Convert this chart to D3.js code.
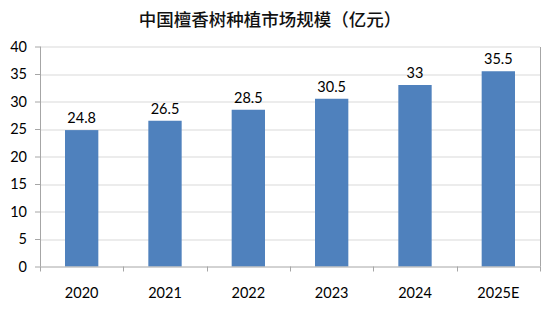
<!DOCTYPE html>
<html>
<head>
<meta charset="utf-8">
<script src="https://cdn.jsdelivr.net/npm/d3@7"></script>
<style>
  body { margin: 0; background: #fff; }
  text { font-family: Lato, "Open Sans", sans-serif; }
</style>
</head>
<body>
<div class="chart"></div>
<script>
var years = ["2020", "2021", "2022", "2023", "2024", "2025E"];
var values = [24.8, 26.5, 28.5, 30.5, 33, 35.5];
var yTicks = [0, 5, 10, 15, 20, 25, 30, 35, 40];
var title = "中国檀香树种植市场规模（亿元）";

var svgWidth = 550;
var svgHeight = 310;

var margin = { top: 46.5, right: 10, bottom: 43.5, left: 40 };
var width = svgWidth - margin.left - margin.right;
var height = svgHeight - margin.top - margin.bottom;

var svg = d3.select(".chart")
  .append("svg")
  .attr("width", svgWidth)
  .attr("height", svgHeight);

svg.append("text")
  .attr("x", 270)
  .attr("y", 26)
  .attr("text-anchor", "middle")
  .style("font-family", "'Noto Sans CJK SC', sans-serif")
  .style("font-size", "17.5px")
  .style("font-weight", 500)
  .attr("fill", "#111")
  .text(title);

var chartGroup = svg.append("g")
  .attr("transform", `translate(${margin.left}, ${margin.top})`);

var x = d3.scaleBand().domain(years).range([0, width]).paddingInner(0.6).paddingOuter(0.3);
var xOuter = d3.scaleBand().domain(years).range([0, width]);
var y = d3.scaleLinear().domain([0, 40]).range([height, 0]);

// gridlines
chartGroup.selectAll(".grid")
  .data(yTicks.filter(d => d > 0))
  .enter()
  .append("line")
  .attr("x1", 0)
  .attr("x2", width)
  .attr("y1", d => Math.round(y(d)) + 0.5)
  .attr("y2", d => Math.round(y(d)) + 0.5)
  .attr("stroke", "#d9d9d9");

// right border
chartGroup.append("line")
  .attr("x1", width + 0.5).attr("x2", width + 0.5)
  .attr("y1", Math.round(y(40)) + 0.5).attr("y2", height)
  .attr("stroke", "#a6a6a6");

// bars
chartGroup.selectAll(".bar")
  .data(values)
  .enter()
  .append("rect")
  .attr("x", (d, i) => x(years[i]))
  .attr("y", d => y(d))
  .attr("width", x.bandwidth())
  .attr("height", d => height - y(d))
  .attr("fill", "#4f81bd");

// value labels
chartGroup.selectAll(".lbl")
  .data(values)
  .enter()
  .append("text")
  .attr("x", (d, i) => x(years[i]) + x.bandwidth() / 2)
  .attr("y", d => y(d) - 7)
  .attr("text-anchor", "middle")
  .style("font-size", "14.5px")
  .attr("fill", "#000")
  .text(d => d);

// y axis
var leftAxis = d3.axisLeft(y).tickValues(yTicks).tickSize(5).tickPadding(8);
var yAxis = chartGroup.append("g").call(leftAxis);
yAxis.select(".domain").attr("stroke", "#a6a6a6").attr("d", `M0.5,${Math.round(y(40))}V${height}`);
yAxis.selectAll(".tick line").attr("stroke", "#a6a6a6");
yAxis.selectAll(".tick text").style("font-size", "14.5px").attr("fill", "#000").style("font-family", "Lato, sans-serif");

// x axis
var xAxis = chartGroup.append("g")
  .attr("transform", `translate(0, ${height})`);
xAxis.append("line")
  .attr("x1", 0).attr("x2", width)
  .attr("y1", 0.5).attr("y2", 0.5)
  .attr("stroke", "#a6a6a6");
xAxis.selectAll(".xt")
  .data(years.concat(["end"]))
  .enter()
  .append("line")
  .attr("x1", (d, i) => Math.round(i * xOuter.step()) + 0.5)
  .attr("x2", (d, i) => Math.round(i * xOuter.step()) + 0.5)
  .attr("y1", 0).attr("y2", 5)
  .attr("stroke", "#a6a6a6");
xAxis.selectAll(".xl")
  .data(years)
  .enter()
  .append("text")
  .attr("x", d => xOuter(d) + xOuter.bandwidth() / 2)
  .attr("y", 31)
  .attr("text-anchor", "middle")
  .style("font-size", "14.5px")
  .attr("fill", "#000")
  .text(d => d);
</script>
</body>
</html>
